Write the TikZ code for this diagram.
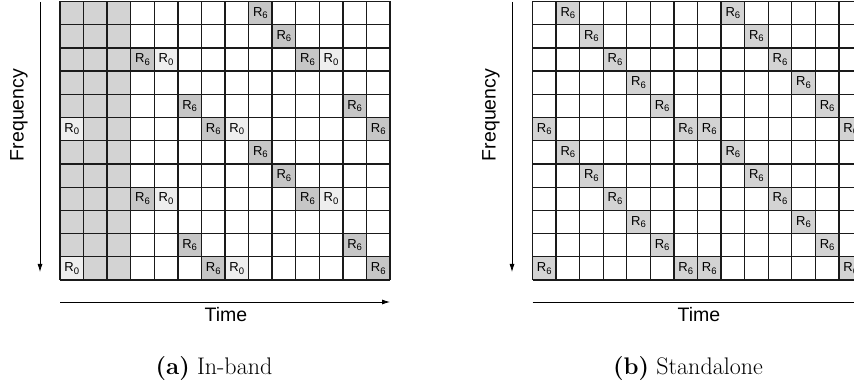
\documentclass[tikz,border=0pt]{standalone}
\usepackage{fontspec}
\newfontfamily\arial{Liberation Sans}
\usetikzlibrary{arrows.meta}
\definecolor{colshade}{HTML}{D3D3D3}
\definecolor{rsixa}{HTML}{C6C6C6}
\definecolor{rzero}{HTML}{EEEEEE}
\definecolor{rsixb}{HTML}{D3D3D3}
\definecolor{gridcol}{HTML}{1A1A1A}
\newcommand\Rlab[1]{{\arial\fontsize{13}{13}\selectfont R\raisebox{-0.35ex}{\fontsize{9.5}{9.5}\selectfont #1}}}
\tikzset{
  gridline/.style={draw=gridcol, line width=1.3pt},
  celltext/.style={inner sep=0pt, anchor=center},
  axisarrow/.style={draw=black, line width=0.8pt, -{Latex[length=8pt,width=5pt]}},
  axislabel/.style={inner sep=0pt, font=\arial\fontsize{19.5}{20}\selectfont},
  subcaption/.style={inner sep=0pt, font=\fontsize{24}{26}\selectfont}
}
\begin{document}
\begin{tikzpicture}[x=1pt,y=-1pt]
\useasboundingbox (0,0) rectangle (854,387);
\clip (0,0) rectangle (854,387);
\fill[white] (0,0) rectangle (854,387);

% ---------- grid (a) ----------
\begin{scope}[shift={(60,1.5)}, x=23.571pt, y=-23.208pt]
  \fill[colshade] (0,0) rectangle (3,12);
  \foreach \r/\c in {1/9,2/10,3/4,3/11,5/6,5/13,6/7,6/14,7/9,8/10,9/4,9/11,11/6,11/13,12/7,12/14}{
    \fill[rsixa] (\c-1,\r-1) rectangle (\c,\r);
    \node[celltext] (a-\r-\c) at (\c-0.5,\r-0.5) {\Rlab{6}};
  }
  \foreach \r/\c in {3/5,3/12,6/1,6/8,9/5,9/12,12/1,12/8}{
    \fill[rzero] (\c-1,\r-1) rectangle (\c,\r);
    \node[celltext] (a-\r-\c) at (\c-0.5,\r-0.5) {\Rlab{0}};
  }
  \foreach \i in {0,...,14} \draw[gridline] (\i,0) -- (\i,12);
  \foreach \j in {0,...,12} \draw[gridline] (0,\j) -- (14,\j);
\end{scope}

% ---------- grid (b) ----------
\begin{scope}[shift={(532.5,1.5)}, x=23.571pt, y=-23.208pt]
  \foreach \r/\c in {1/2,1/9,2/3,2/10,3/4,3/11,4/5,4/12,5/6,5/13,6/1,6/7,6/8,6/14,
                     7/2,7/9,8/3,8/10,9/4,9/11,10/5,10/12,11/6,11/13,12/1,12/7,12/8,12/14}{
    \fill[rsixb] (\c-1,\r-1) rectangle (\c,\r);
    \node[celltext] (b-\r-\c) at (\c-0.5,\r-0.5) {\Rlab{6}};
  }
  \foreach \i in {0,...,14} \draw[gridline] (\i,0) -- (\i,12);
  \foreach \j in {0,...,12} \draw[gridline] (0,\j) -- (14,\j);
\end{scope}

% ---------- axes (a) ----------
\coordinate (fa-top) at (40,2);
\coordinate (fa-bot) at (40,272);
\coordinate (ta-left) at (60,302);
\coordinate (ta-right) at (390,302);
\draw[axisarrow] (fa-top) -- (fa-bot);
\draw[axisarrow] (ta-left) -- (ta-right);
\node[axislabel, rotate=90] (freqa) at (19,115) {Frequency};
\node[axislabel] (timea) at (226,315) {Time};
\node[subcaption] (capa) at (214,369) {\textbf{(a)} In-band};

% ---------- axes (b) ----------
\coordinate (fb-top) at (512,2);
\coordinate (fb-bot) at (512,272);
\coordinate (tb-left) at (532.5,302);
\coordinate (tb-right) at (862,302);
\draw[axisarrow] (fb-top) -- (fb-bot);
\draw[axisarrow] (tb-left) -- (tb-right);
\node[axislabel, rotate=90] (freqb) at (491,115) {Frequency};
\node[axislabel] (timeb) at (699,315) {Time};
\node[subcaption] (capb) at (688,369) {\textbf{(b)} Standalone};
\end{tikzpicture}
\end{document}
